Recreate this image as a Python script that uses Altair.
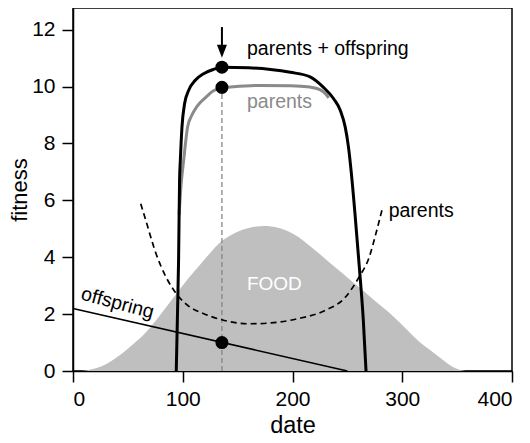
import altair as alt
import pandas as pd

# ---- data ----
food_x = [8, 15, 25, 35, 45, 55, 65, 75, 85, 95, 105, 115, 125, 135, 145, 155, 165, 175,
          185, 195, 205, 215, 225, 235, 245, 255, 265, 275, 285, 295, 305, 315, 325, 335, 345, 352, 358]
food_y = [0, 0.04, 0.15, 0.35, 0.62, 0.95, 1.3, 1.75, 2.25, 2.75, 3.25, 3.7, 4.15, 4.55, 4.8, 4.97, 5.07, 5.1,
          5.05, 4.93, 4.72, 4.42, 4.1, 3.77, 3.45, 3.12, 2.8, 2.47, 2.15, 1.8, 1.42, 1.05, 0.75, 0.45, 0.17, 0.04, 0]

po_x = [94.1, 95.2, 96.2, 97.1, 97.8, 99.3, 101.7, 105.4, 111.4, 119, 128, 136, 160, 180, 198, 216,
        228, 237.5, 243.6, 248, 251, 253.5, 257, 261, 264.5, 267]
po_y = [0, 2, 3.9, 6.7, 7.4, 8.58, 9.4, 9.87, 10.22, 10.45, 10.6, 10.68, 10.66, 10.6, 10.5, 10.34,
        9.98, 9.57, 9.16, 8.58, 7.87, 7.0, 5.5, 3.6, 1.8, 0]

gp_x = [96.7, 98.6, 100.8, 104.4, 108.4, 113, 120.5, 128, 136, 170, 198, 216, 225, 230, 233]
gp_y = [5.5, 6.6, 7.4, 8.58, 9.0, 9.3, 9.6, 9.85, 9.96, 10.04, 10.03, 9.98, 9.89, 9.75, 9.6]

u_x = [61.7, 66.3, 75.6, 84.8, 94.1, 106.4, 118.7, 135.7, 160.4, 180.4, 205, 229.8, 248.3, 260.6, 269.9, 276, 281.6]
u_y = [5.88, 5.30, 4.13, 3.30, 2.72, 2.25, 2.02, 1.80, 1.66, 1.69, 1.84, 2.13, 2.60, 3.30, 4.0, 4.83, 5.67]

off_x = [0, 250]
off_y = [2.2, 0]

mark_date = 135.7
dot_y = [10.68, 9.97, 1.0]

labels = ["parents + offspring", "parents", "parents"]
label_x = [158.5, 158.5, 287.6]
label_y = [11.1, 9.26, 5.41]
label_c = ["black", "#8a8a8a", "black"]

x_ticks = [0, 100, 200, 300, 400]
y_ticks = [0, 2, 4, 6, 8, 10, 12]

# ---- scales / axes ----
xs = alt.Scale(domain=[0, 400], nice=False, zero=False)
ys = alt.Scale(domain=[0, 12.76], nice=False, zero=False)
xa = alt.Axis(values=x_ticks, grid=False, tickSize=11, labelPadding=6, titlePadding=4, titleFontSize=23.5)
ya = alt.Axis(values=y_ticks, grid=False, tickSize=11, labelPadding=7, titlePadding=0, titleFontSize=22)


def X(f="x"):
    return alt.X(f"{f}:Q", scale=xs, axis=xa, title="date")


def Y(f="y"):
    return alt.Y(f"{f}:Q", scale=ys, axis=ya, title="fitness")


food = alt.Chart(pd.DataFrame({"x": food_x, "y": food_y})).mark_area(
    color="#bfbfbf", interpolate="monotone", opacity=1).encode(x=X(), y=Y())

vline = alt.Chart(pd.DataFrame({"x": [mark_date], "y": [0], "y2": [10.0]})).mark_rule(
    color="#888888", strokeDash=[5, 3], strokeWidth=1.3).encode(x=X(), y=Y(), y2="y2:Q")

offl = alt.Chart(pd.DataFrame({"x": off_x, "y": off_y})).mark_line(
    color="black", strokeWidth=1.6).encode(x=X(), y=Y())

ucurve = alt.Chart(pd.DataFrame({"x": u_x, "y": u_y})).mark_line(
    color="black", strokeWidth=1.7, strokeDash=[6, 4], interpolate="monotone").encode(x=X(), y=Y())

gray = alt.Chart(pd.DataFrame({"x": gp_x, "y": gp_y})).mark_line(
    color="#8a8a8a", strokeWidth=3, interpolate="monotone").encode(x=X(), y=Y())

black = alt.Chart(pd.DataFrame({"x": po_x, "y": po_y})).mark_line(
    color="black", strokeWidth=3, interpolate="monotone").encode(x=X(), y=Y())

dots = alt.Chart(pd.DataFrame({"x": [mark_date] * 3, "y": dot_y})).mark_circle(
    color="black", size=170, opacity=1).encode(x=X(), y=Y())

arrow_line = alt.Chart(pd.DataFrame({"x": [mark_date], "y": [12.09], "y2": [11.4]})).mark_rule(
    color="black", strokeWidth=2).encode(x=X(), y=Y(), y2="y2:Q")

arrow_head = alt.Chart(pd.DataFrame({"x": [mark_date], "y": [11.24]})).mark_point(
    shape="M-0.77,-1L0.77,-1L0,1Z", filled=True, size=169, color="black", opacity=1,
    strokeWidth=0).encode(x=X(), y=Y())

texts = alt.Chart(pd.DataFrame({"x": label_x, "y": label_y, "t": labels, "c": label_c})).mark_text(
    align="left", baseline="alphabetic", fontSize=19.5, font="Liberation Sans").encode(
    x=X(), y=Y(), text="t:N", color=alt.Color("c:N", scale=None))

food_text = alt.Chart(pd.DataFrame({"x": [183.5], "y": [3.05], "t": ["FOOD"]})).mark_text(
    align="center", baseline="middle", fontSize=19, font="Liberation Sans", color="white").encode(
    x=X(), y=Y(), text="t:N")

off_text = alt.Chart(pd.DataFrame({"x": [39.2], "y": [2.18], "t": ["offspring"]})).mark_text(
    align="center", baseline="alphabetic", fontSize=19.5, font="Liberation Sans", color="black",
    angle=15).encode(x=X(), y=Y(), text="t:N")

chart = alt.layer(
    food, vline, offl, ucurve, gray, black, dots, arrow_line, arrow_head, texts, food_text, off_text
).properties(
    width=439, height=363,
    autosize=alt.AutoSizeParams(type="none"),
    padding={"left": 65, "top": 0, "right": 10, "bottom": 72},
).configure_view(
    stroke="black", strokeWidth=1.5
).configure_axis(
    labelFont="Liberation Sans", titleFont="Liberation Sans",
    labelFontSize=21, titleFontWeight="normal",
    labelColor="black", titleColor="black",
    domainColor="black", tickColor="black", domainWidth=1.5, tickWidth=1.5,
)

chart.save("out.html", embed_options={"renderer": "svg", "actions": False})
